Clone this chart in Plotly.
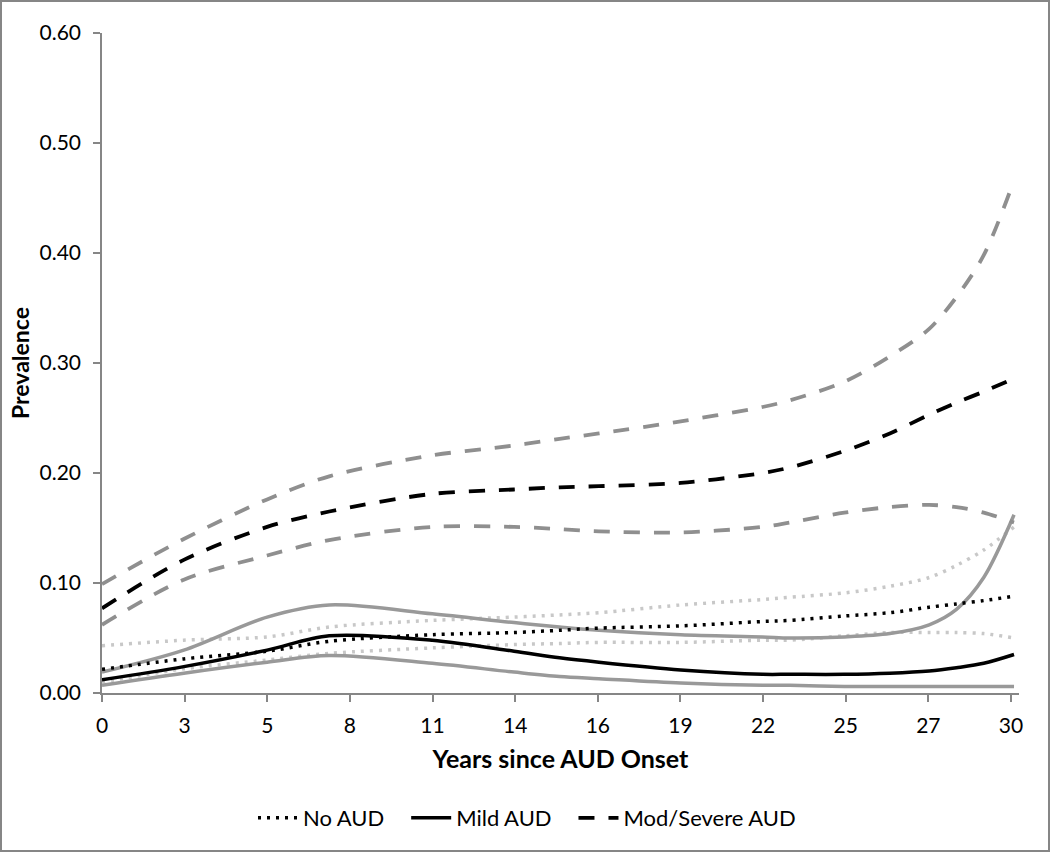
import plotly.graph_objects as go

# Sample positions (years since onset)
years = [0, 2.7, 5.45, 7.5, 10.9, 13.6, 15.1, 16.4, 19.1, 21.8, 22.7, 24.5, 26.0, 27.3, 28.2, 29.1, 30.1]

# No AUD
no_mean  = [0.0215, 0.031, 0.038, 0.047, 0.053, 0.055, 0.057, 0.059, 0.061, 0.065, 0.066, 0.070, 0.073, 0.078, 0.081, 0.084, 0.088]
no_upper = [0.043, 0.048, 0.051, 0.060, 0.066, 0.069, 0.071, 0.073, 0.080, 0.085, 0.087, 0.091, 0.097, 0.105, 0.116, 0.130, 0.151]
no_lower = [0.010, 0.022, 0.030, 0.036, 0.041, 0.044, 0.045, 0.046, 0.046, 0.048, 0.048, 0.052, 0.055, 0.055, 0.055, 0.054, 0.050]

# Mild AUD
mild_mean  = [0.012, 0.024, 0.039, 0.052, 0.048, 0.038, 0.032, 0.028, 0.021, 0.017, 0.017, 0.017, 0.018, 0.020, 0.023, 0.027, 0.035]
mild_upper = [0.019, 0.039, 0.069, 0.080, 0.072, 0.064, 0.060, 0.057, 0.053, 0.051, 0.050, 0.051, 0.054, 0.062, 0.076, 0.105, 0.162]
mild_lower = [0.007, 0.018, 0.028, 0.034, 0.027, 0.019, 0.015, 0.013, 0.009, 0.007, 0.007, 0.006, 0.006, 0.006, 0.006, 0.006, 0.006]

# Moderate/Severe AUD
mod_mean  = [0.077, 0.121, 0.151, 0.165, 0.181, 0.185, 0.187, 0.188, 0.191, 0.200, 0.205, 0.220, 0.236, 0.253, 0.264, 0.274, 0.286]
mod_upper = [0.099, 0.140, 0.176, 0.197, 0.216, 0.225, 0.231, 0.236, 0.247, 0.260, 0.266, 0.283, 0.306, 0.331, 0.360, 0.398, 0.466]
mod_lower = [0.062, 0.103, 0.125, 0.139, 0.151, 0.151, 0.149, 0.147, 0.146, 0.151, 0.155, 0.164, 0.169, 0.171, 0.169, 0.164, 0.155]

x_tick_labels = ["0", "3", "5", "8", "11", "14", "16", "19", "22", "25", "27", "30"]
y_tick_values = [0.0, 0.1, 0.2, 0.3, 0.4, 0.5, 0.6]

FONT = "Lato"
AXIS_COLOR = "#868686"
W, H = 1050, 852
ML, MR, MT, MB = 102, 31, 33, 159
GAP = "\u00a0\u00a0\u00a0"

fig = go.Figure()

def add(y, name, color, dash, width, show):
    fig.add_trace(go.Scatter(
        x=years, y=y, mode="lines", name=name, showlegend=show,
        line=dict(color=color, dash=dash, width=width, shape="spline", smoothing=0.9),
        hoverinfo="skip" if not show else None,
    ))

# Confidence bounds (grey)
add(no_upper, "No AUD upper", "#c8c8c8", "3px,6px", 3.5, False)
add(no_lower, "No AUD lower", "#c8c8c8", "3px,6px", 3.5, False)
add(mild_upper, "Mild AUD upper", "#999999", "solid", 3.5, False)
add(mild_lower, "Mild AUD lower", "#999999", "solid", 3.5, False)
add(mod_upper, "Mod/Severe AUD upper", "#8f8f8f", "16px,14px", 3.8, False)
add(mod_lower, "Mod/Severe AUD lower", "#8f8f8f", "16px,14px", 3.8, False)

# Estimates (black)
add(no_mean, "No AUD" + GAP, "#000000", "3px,6px", 3.5, True)
add(mild_mean, "Mild AUD" + GAP, "#000000", "solid", 3.5, True)
add(mod_mean, "Mod/Severe AUD", "#000000", "16px,14px", 3.8, True)

plot_w = W - ML - MR
plot_h = H - MT - MB
x_max = 30.0 * plot_w / 909.0

fig.update_layout(
    width=W, height=H,
    margin=dict(l=ML, r=MR, t=MT, b=MB, pad=0),
    paper_bgcolor="white", plot_bgcolor="white",
    font=dict(family=FONT, size=21, color="#000000"),
    showlegend=True,
    legend=dict(
        orientation="h", x=(527 - ML) / plot_w, xanchor="center",
        y=(693 - 818) / plot_h, yanchor="middle",
        font=dict(family=FONT, size=22, color="#000000"),
        bgcolor="rgba(0,0,0,0)", itemwidth=40, tracegroupgap=0,
    ),
    xaxis=dict(
        range=[0, x_max],
        tickvals=[i * 30 / 11 for i in range(len(x_tick_labels))],
        ticktext=x_tick_labels,
        showgrid=False, zeroline=False,
        showline=True, linecolor=AXIS_COLOR, linewidth=1.5,
        ticks="outside", ticklen=7, tickcolor=AXIS_COLOR, tickwidth=1.5,
        ticklabelstandoff=6,
        tickfont=dict(family=FONT, size=21),
        title=dict(text="<b>Years since AUD Onset</b>", standoff=15,
                   font=dict(family=FONT, size=25)),
    ),
    yaxis=dict(
        range=[0, 0.6],
        tickvals=y_tick_values,
        tickformat=".2f",
        showgrid=False, zeroline=False,
        showline=True, linecolor=AXIS_COLOR, linewidth=1.5,
        ticks="outside", ticklen=7, tickcolor=AXIS_COLOR, tickwidth=1.5,
        ticklabelstandoff=8,
        tickfont=dict(family=FONT, size=21),
        title=dict(text="<b>Prevalence</b>", standoff=3,
                   font=dict(family=FONT, size=23)),
    ),
    shapes=[dict(
        type="rect", xref="paper", yref="paper",
        x0=(1 - ML) / plot_w, x1=(W - 1 - ML) / plot_w,
        y0=-(MB - 1) / plot_h, y1=1 + (MT - 1) / plot_h,
        line=dict(color=AXIS_COLOR, width=2), fillcolor="rgba(0,0,0,0)", layer="below",
    )],
)

fig.write_html(
    "out.html",
    config={"displayModeBar": False},
    post_script="document.body.style.margin='0';document.body.style.overflow='hidden';",
)
